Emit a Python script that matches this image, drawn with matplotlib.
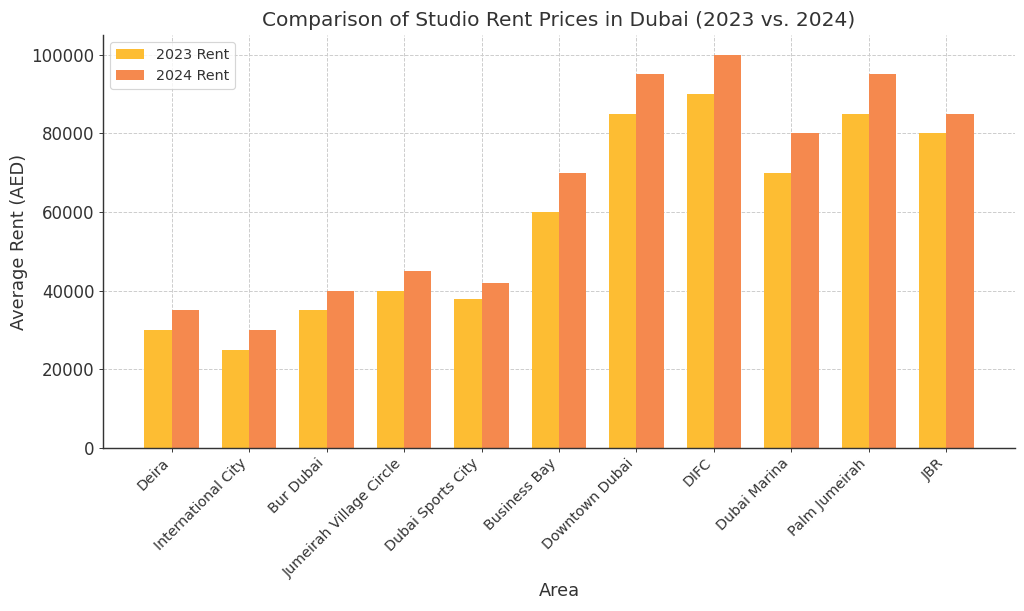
import numpy as np
import matplotlib.pyplot as plt

areas = ["Deira", "International City", "Bur Dubai", "Jumeirah Village Circle",
         "Dubai Sports City", "Business Bay", "Downtown Dubai", "DIFC",
         "Dubai Marina", "Palm Jumeirah", "JBR"]
rent_2023 = [30000, 25000, 35000, 40000, 38000, 60000, 85000, 90000, 70000, 85000, 80000]
rent_2024 = [35000, 30000, 40000, 45000, 42000, 70000, 95000, 100000, 80000, 95000, 85000]

dpi = 1024 / 12
fig, ax = plt.subplots(figsize=(12, 611 / dpi), dpi=dpi)
fig.subplots_adjust(left=103/1024, right=1015/1024, top=1-35/611, bottom=1-448/611)

x = np.arange(len(areas))
width = 0.35
ax.bar(x - width/2, rent_2023, width, label="2023 Rent", color="#fdbd33")
ax.bar(x + width/2, rent_2024, width, label="2024 Rent", color="#f5894e")

ax.set_axisbelow(True)
ax.grid(True, linestyle="--", color="#cccccc", linewidth=0.8)
ax.spines["top"].set_visible(False)
ax.spines["right"].set_visible(False)
for s in ("left", "bottom"):
    ax.spines[s].set_color("#333333")
    ax.spines[s].set_linewidth(1.2)

ax.set_xticks(x)
ax.set_xticklabels(areas, rotation=45, ha="right", fontsize=12, color="#333333")
ax.tick_params(axis="y", labelsize=14, colors="#333333")
ax.tick_params(axis="x", colors="#333333")
ax.set_xlabel("Area", fontsize=15, color="#333333", labelpad=2)
ax.set_ylabel("Average Rent (AED)", fontsize=15, color="#333333", labelpad=3)
ax.set_title("Comparison of Studio Rent Prices in Dubai (2023 vs. 2024)", fontsize=17, color="#333333", pad=8)
leg = ax.legend(loc="upper left", fontsize=12)
for t in leg.get_texts():
    t.set_color("#333333")

fig.savefig("out.png", dpi=dpi)
